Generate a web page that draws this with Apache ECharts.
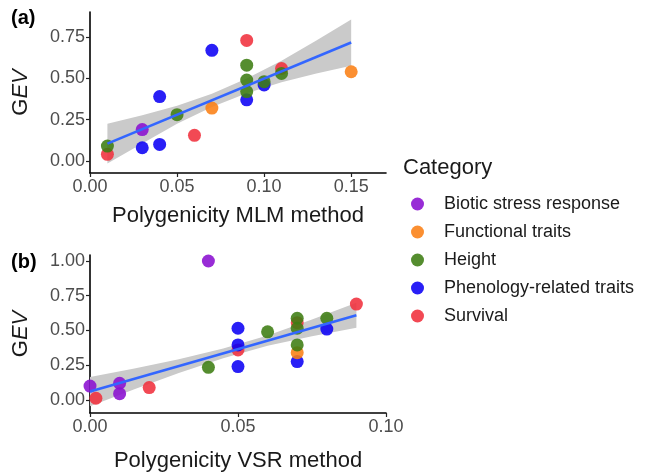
<!DOCTYPE html>
<html>
<head>
<meta charset="utf-8">
<script src="https://cdn.jsdelivr.net/npm/echarts@6/dist/echarts.min.js"></script>
<style>html,body{margin:0;padding:0;background:#fff}#c{width:648px;height:475px}</style>
</head>
<body>
<div id="c"></div>
<script>
// ---------- data ----------
const categories = ['Biotic stress response', 'Functional traits', 'Height', 'Phenology-related traits', 'Survival'];
const colors = ['#8a0fd0', '#fb7f14', '#3e7d12', '#0b00f5', '#f0303c'];

// Panel (a): Polygenicity MLM method vs GEV
const mlmBiotic = [[0.03, 0.19]];
const mlmFunctional = [[0.07, 0.32], [0.15, 0.54]];
const mlmHeight = [[0.01, 0.09], [0.05, 0.28], [0.09, 0.58], [0.09, 0.49], [0.09, 0.42], [0.10, 0.48], [0.11, 0.53]];
const mlmPhenology = [[0.03, 0.08], [0.04, 0.10], [0.04, 0.39], [0.07, 0.67], [0.09, 0.37], [0.10, 0.46]];
const mlmSurvival = [[0.01, 0.04], [0.06, 0.155], [0.09, 0.73], [0.11, 0.56]];
const mlmFitX = [0.01, 0.15];
const mlmFitY = [0.105, 0.717];
const mlmBandX = [0.01, 0.03, 0.05, 0.07, 0.09, 0.11, 0.13, 0.15];
const mlmBandLow = [-0.015, 0.105, 0.225, 0.327, 0.41, 0.477, 0.53, 0.577];
const mlmBandHigh = [0.225, 0.277, 0.335, 0.407, 0.50, 0.607, 0.73, 0.857];

// Panel (b): Polygenicity VSR method vs GEV
const vsrBiotic = [[0.0, 0.10], [0.01, 0.12], [0.01, 0.045], [0.04, 1.0]];
const vsrFunctional = [[0.07, 0.34]];
const vsrHeight = [[0.04, 0.235], [0.06, 0.49], [0.07, 0.588], [0.07, 0.516], [0.07, 0.396], [0.08, 0.588]];
const vsrPhenology = [[0.05, 0.516], [0.05, 0.396], [0.05, 0.24], [0.07, 0.276], [0.08, 0.51]];
const vsrSurvival = [[0.002, 0.012], [0.02, 0.089], [0.05, 0.36], [0.07, 0.556], [0.09, 0.69]];
const vsrFitX = [0, 0.09];
const vsrFitY = [0.06, 0.61];
const vsrBandX = [0, 0.015, 0.03, 0.045, 0.06, 0.075, 0.09];
const vsrBandLow = [-0.045, 0.077, 0.193, 0.30, 0.39, 0.458, 0.52];
const vsrBandHigh = [0.165, 0.227, 0.293, 0.37, 0.464, 0.578, 0.70];

const xTicksA = [0, 0.05, 0.10, 0.15];
const yTicksA = [0, 0.25, 0.50, 0.75];
const xTicksB = [0, 0.05, 0.10];
const yTicksB = [0, 0.25, 0.50, 0.75, 1.00];

// ---------- chart ----------
const FONT = 'Liberation Sans, Arial, sans-serif';
const chart = echarts.init(document.getElementById('c'), null, {renderer: 'canvas'});

function axisCommon(ticks) {
  return {
    type: 'value',
    splitLine: {show: false},
    axisLine: {show: true, onZero: false, lineStyle: {color: '#000', width: 1.6}},
    axisTick: {show: true, length: 4, lineStyle: {color: '#222', width: 1.2}, customValues: ticks},
    axisLabel: {color: '#4d4d4d', fontSize: 18, fontFamily: FONT, margin: 5, customValues: ticks,
      formatter: v => v.toFixed(2)}
  };
}

const yName = '{g|G}{e|EV}';
const yRich = {g: {fontSize: 22, fontFamily: FONT, color: '#1a1a1a'}, e: {fontSize: 22, fontFamily: FONT, fontStyle: 'italic', color: '#1a1a1a'}};

const panelData = [
  [mlmBiotic, mlmFunctional, mlmHeight, mlmPhenology, mlmSurvival],
  [vsrBiotic, vsrFunctional, vsrHeight, vsrPhenology, vsrSurvival]
];
const drawOrder = [4, 3, 1, 0, 2];

const series = [];
function bandSeries(idx, bx, lo, hi) {
  series.push({
    type: 'custom', xAxisIndex: idx, yAxisIndex: idx, silent: true, z: 1,
    data: bx.map((x, i) => [x, lo[i], hi[i]]),
    encode: {x: 0, y: [1, 2]},
    renderItem: function (params, api) {
      if (params.dataIndex !== 0) return null;
      const pts = [];
      for (let i = 0; i < bx.length; i++) pts.push(api.coord([bx[i], hi[i]]));
      for (let i = bx.length - 1; i >= 0; i--) pts.push(api.coord([bx[i], lo[i]]));
      return {type: 'polygon', shape: {points: pts}, style: {fill: '#cacaca', stroke: null}};
    }
  });
}
bandSeries(0, mlmBandX, mlmBandLow, mlmBandHigh);
bandSeries(1, vsrBandX, vsrBandLow, vsrBandHigh);

[0, 1].forEach(p => {
  drawOrder.forEach(c => {
    series.push({
      type: 'scatter', name: categories[c], xAxisIndex: p, yAxisIndex: p,
      data: panelData[p][c], symbolSize: 13,
      itemStyle: {color: colors[c], opacity: 0.88}, z: 2
    });
  });
});

series.push({
  type: 'line', xAxisIndex: 0, yAxisIndex: 0, data: mlmFitX.map((x, i) => [x, mlmFitY[i]]),
  symbol: 'none', lineStyle: {color: '#3366ff', width: 2.6}, z: 3, silent: true
});
series.push({
  type: 'line', xAxisIndex: 1, yAxisIndex: 1, data: vsrFitX.map((x, i) => [x, vsrFitY[i]]),
  symbol: 'none', lineStyle: {color: '#3366ff', width: 2.6}, z: 3, silent: true
});

const option = {
  backgroundColor: '#fff',
  animation: false,
  color: colors,
  title: {
    text: 'Category', left: 398, top: 152,
    textStyle: {fontSize: 22, fontWeight: 'normal', fontFamily: FONT, color: '#1a1a1a'}
  },
  legend: {
    data: categories, orient: 'vertical', left: 406, top: 190,
    icon: 'circle', itemWidth: 13, itemHeight: 13, itemGap: 10,
    textStyle: {fontSize: 18, fontFamily: FONT, color: '#1a1a1a', lineHeight: 18, padding: [0, 0, 0, 15]},
    selectedMode: false
  },
  graphic: [
    {type: 'text', left: 11, top: 8, style: {text: '(a)', font: 'bold 20px ' + FONT, fill: '#000'}},
    {type: 'text', left: 11, top: 252, style: {text: '(b)', font: 'bold 20px ' + FONT, fill: '#000'}}
  ],
  grid: [
    {left: 90, top: 12, width: 296, height: 161},
    {left: 90, top: 255, width: 296, height: 158}
  ],
  xAxis: [
    Object.assign(axisCommon(xTicksA), {gridIndex: 0, min: 0, max: 0.17,
      name: 'Polygenicity MLM method', nameLocation: 'middle', nameGap: 32,
      nameTextStyle: {fontSize: 22, fontFamily: FONT, color: '#1a1a1a'}}),
    Object.assign(axisCommon(xTicksB), {gridIndex: 1, min: 0, max: 0.1,
      name: 'Polygenicity VSR method', nameLocation: 'middle', nameGap: 37,
      nameTextStyle: {fontSize: 22, fontFamily: FONT, color: '#1a1a1a'}})
  ],
  yAxis: [
    Object.assign(axisCommon(yTicksA), {gridIndex: 0, min: -0.073, max: 0.902,
      name: yName, nameLocation: 'middle', nameGap: 58, nameTextStyle: {rich: yRich}}),
    Object.assign(axisCommon(yTicksB), {gridIndex: 1, min: -0.094, max: 1.043,
      name: yName, nameLocation: 'middle', nameGap: 58, nameTextStyle: {rich: yRich}})
  ],
  series: series
};
chart.setOption(option);
</script>
</body>
</html>
